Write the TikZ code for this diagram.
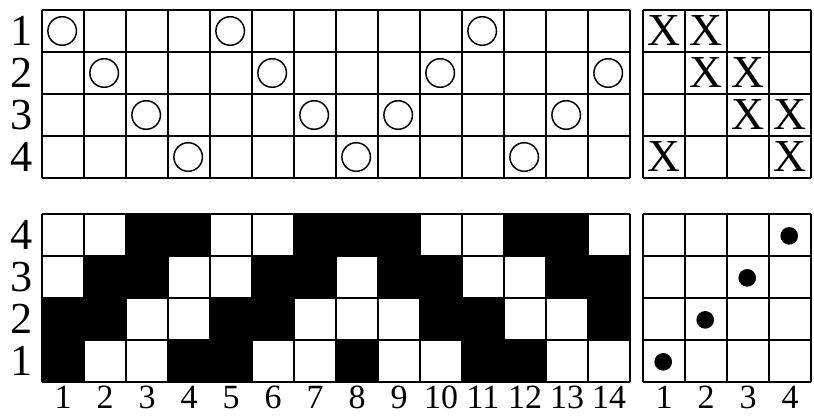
\documentclass[tikz,border=0pt]{standalone}
\usepackage{fontspec}
\setmainfont{Liberation Serif}
\begin{document}
\begin{tikzpicture}[
  cell/.style={draw=black, line width=1.3pt},
  ring/.style={draw=black, line width=1pt},
  rowlabel/.style={font=\fontsize{30}{30}\selectfont, inner sep=0pt},
  collabel/.style={font=\fontsize{23}{23}\selectfont, inner sep=0pt},
  tiemark/.style={font=\fontsize{31}{31}\selectfont, inner sep=0pt}
]
\useasboundingbox (-1,-0.786) rectangle (18.38,9.095);
% drawdown: black cells per pick
\foreach \r/\cols in {1/{1,4,5,8,11,12},2/{1,2,5,6,10,11,14},3/{2,3,6,7,9,10,13,14},4/{3,4,7,8,9,12,13}}{
  \foreach \c in \cols
    \fill[black] (\c-1,\r-1) rectangle (\c,\r);
}
\draw[cell] (0,0) grid (14,4);
% threading
\begin{scope}[shift={(0,4.857)}]
  \draw[cell] (0,0) grid (14,4);
  \foreach \c/\s in {1/1,2/2,3/3,4/4,5/1,6/2,7/3,8/4,9/3,10/2,11/1,12/4,13/3,14/2}
    \draw[ring] (\c-0.52,4-\s+0.5) circle (0.34);
\end{scope}
% tie-up
\begin{scope}[shift={(14.31,4.857)}]
  \draw[cell] (0,0) grid (4,4);
  \foreach \s/\t in {1/1,1/2,2/2,2/3,3/3,3/4,4/1,4/4}
    \node[tiemark] (tie\s\t) at (\t-0.5,4-\s+0.5) {X};
\end{scope}
% treadling
\begin{scope}[shift={(14.31,0)}]
  \draw[cell] (0,0) grid (4,4);
  \foreach \k in {1,...,4}
    \fill[black] (\k-0.52,\k-0.52) circle (0.21);
\end{scope}
% labels
\foreach \s in {1,...,4}
  \node[rowlabel] (shaft\s) at (-0.48,8.857-\s+0.5) {\s};
\foreach \r in {1,...,4}
  \node[rowlabel] (pick\r) at (-0.48,\r-0.5) {\r};
\foreach \c in {1,...,14}
  \node[collabel] (warp\c) at (\c-0.5,-0.37) {\c};
\foreach \k in {1,...,4}
  \node[collabel] (treadle\k) at (14.31+\k-0.5,-0.37) {\k};
\end{tikzpicture}
\end{document}
